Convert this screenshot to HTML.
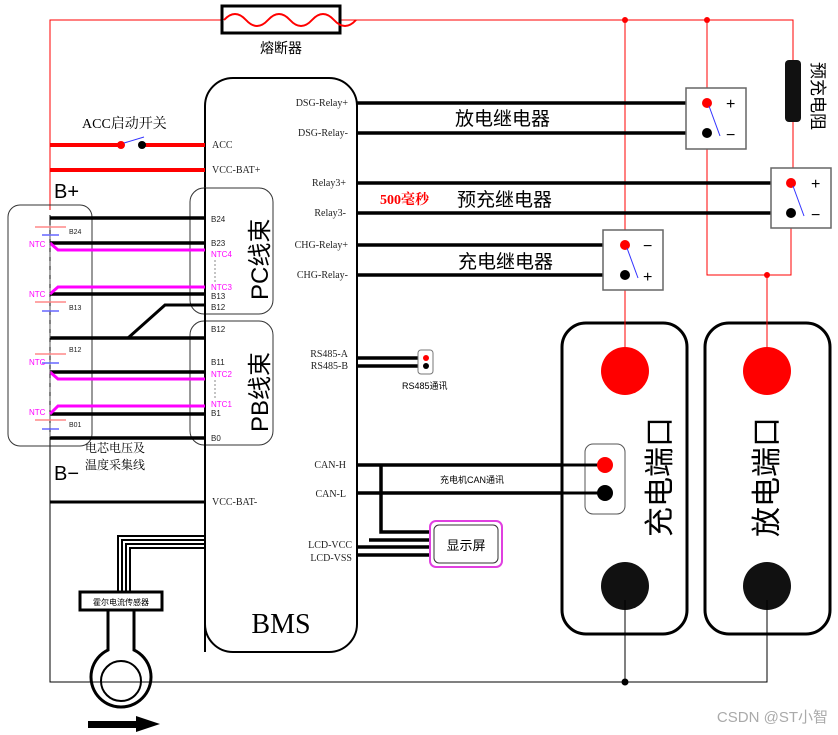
<!DOCTYPE html>
<html><head><meta charset="utf-8"><style>
html,body{margin:0;padding:0;background:#fff;width:838px;height:735px;overflow:hidden}
svg{display:block}
text{font-family:"Liberation Sans","Noto Sans CJK SC",sans-serif}
.s{font-family:"Liberation Serif","Noto Serif CJK SC",serif}
</style></head><body>
<svg width="838" height="735" viewBox="0 0 838 735" xmlns="http://www.w3.org/2000/svg">
<polyline points="50,210 50,20 793,20 793,60" fill="none" stroke="#f00" stroke-width="1"/>
<circle cx="625" cy="20" r="3" fill="#f00"/><circle cx="707" cy="20" r="3" fill="#f00"/>
<rect x="222" y="6" width="118" height="27" fill="#fff" stroke="#000" stroke-width="3"/>
<path d="M224,20 q11,-12 22,0 t22,0 t22,0 t22,0 t22,0 t22,0" fill="none" stroke="#f00" stroke-width="2"/>
<text x="281" y="53" font-size="14" text-anchor="middle">熔断器</text>
<line x1="625" y1="20" x2="625" y2="345" stroke="#f00"/>
<line x1="707" y1="20" x2="707" y2="103" stroke="#f00"/>
<polyline points="707,133 707,275 791,275 791,213" fill="none" stroke="#f00"/>
<circle cx="767" cy="275" r="3" fill="#f00"/>
<line x1="767" y1="275" x2="767" y2="350" stroke="#f00"/>
<line x1="793" y1="120" x2="793" y2="183" stroke="#f00"/>
<rect x="785" y="60" width="16" height="62" rx="4" fill="#111"/>
<text transform="translate(812,62) rotate(90)" font-size="17">预充电阻</text>
<rect x="205" y="78" width="152" height="574" rx="28" fill="none" stroke="#000" stroke-width="2"/>
<text x="281" y="633" class="s" font-size="28" text-anchor="middle">BMS</text>
<g stroke="#000" stroke-width="3.5">
<line x1="357" y1="103" x2="686" y2="103"/><line x1="357" y1="133" x2="686" y2="133"/>
<line x1="357" y1="183" x2="771" y2="183"/><line x1="357" y1="213" x2="771" y2="213"/>
<line x1="357" y1="245" x2="603" y2="245"/><line x1="357" y1="275" x2="603" y2="275"/>
<line x1="357" y1="358" x2="425" y2="358"/><line x1="357" y1="366" x2="425" y2="366"/>
<line x1="357" y1="465" x2="603" y2="465"/><line x1="357" y1="493" x2="603" y2="493"/>
<polyline points="381,465 381,532 430,532" fill="none"/>
<line x1="369" y1="540" x2="430" y2="540"/>
<line x1="357" y1="547" x2="430" y2="547"/><line x1="357" y1="555" x2="430" y2="555"/>
</g>
<g class="s" font-size="10" text-anchor="end" fill="#222">
<text x="348" y="106" class="s">DSG-Relay+</text><text x="348" y="136" class="s">DSG-Relay-</text>
<text x="346" y="186" class="s">Relay3+</text><text x="346" y="216" class="s">Relay3-</text>
<text x="348" y="248" class="s">CHG-Relay+</text><text x="348" y="278" class="s">CHG-Relay-</text>
<text x="348" y="357" class="s">RS485-A</text><text x="348" y="369" class="s">RS485-B</text>
<text x="346" y="468" class="s">CAN-H</text><text x="346" y="497" class="s">CAN-L</text>
<text x="352" y="548" class="s">LCD-VCC</text><text x="352" y="561" class="s">LCD-VSS</text>
<text x="212" y="148" text-anchor="start" class="s">ACC</text>
<text x="212" y="173" text-anchor="start" class="s">VCC-BAT+</text>
<text x="212" y="505" text-anchor="start" class="s">VCC-BAT-</text>
</g>
<text x="455" y="125" font-size="19">放电继电器</text>
<text x="380" y="204" font-size="14" fill="#f00" class="s" font-weight="bold">500毫秒</text>
<text x="457" y="206" font-size="19">预充继电器</text>
<text x="458" y="268" font-size="19">充电继电器</text>
<g fill="#fff" stroke="#666" stroke-width="1.5">
<rect x="686" y="88" width="60" height="61"/><rect x="771" y="168" width="60" height="60"/><rect x="603" y="230" width="60" height="60"/>
</g>
<g>
<circle cx="707" cy="103" r="5" fill="#f00"/><circle cx="707" cy="133" r="5" fill="#000"/><line x1="709" y1="106" x2="720" y2="136" stroke="#33f"/>
<text x="726" y="109" font-size="16">+</text><text x="726" y="140" font-size="16">−</text>
<circle cx="791" cy="183" r="5" fill="#f00"/><circle cx="791" cy="213" r="5" fill="#000"/><line x1="793" y1="186" x2="804" y2="216" stroke="#33f"/>
<text x="811" y="189" font-size="16">+</text><text x="811" y="220" font-size="16">−</text>
<circle cx="625" cy="245" r="5" fill="#f00"/><circle cx="625" cy="275" r="5" fill="#000"/><line x1="627" y1="248" x2="638" y2="278" stroke="#33f"/>
<text x="643" y="251" font-size="16">−</text><text x="643" y="282" font-size="16">+</text>
</g>
<rect x="418" y="350" width="15" height="24" rx="3" fill="#fff" stroke="#777"/>
<circle cx="426" cy="358" r="3" fill="#f00"/><circle cx="426" cy="366" r="3" fill="#000"/>
<text x="402" y="389" font-size="9">RS485通讯</text>
<text x="440" y="483" font-size="9">充电机CAN通讯</text>
<rect x="430" y="521" width="72" height="46" rx="6" fill="#fff" stroke="#e040e0" stroke-width="2"/>
<rect x="434" y="525" width="64" height="38" rx="5" fill="none" stroke="#333"/>
<text x="466" y="550" font-size="13" text-anchor="middle">显示屏</text>
<rect x="562" y="323" width="125" height="311" rx="24" fill="#fff" stroke="#000" stroke-width="3"/>
<rect x="705" y="323" width="125" height="311" rx="24" fill="#fff" stroke="#000" stroke-width="3"/>
<line x1="625" y1="300" x2="625" y2="348" stroke="#f00"/><line x1="767" y1="290" x2="767" y2="348" stroke="#f00"/>
<circle cx="625" cy="371" r="24" fill="#f00"/><circle cx="767" cy="371" r="24" fill="#f00"/>
<circle cx="625" cy="586" r="24" fill="#111"/><circle cx="767" cy="586" r="24" fill="#111"/>
<rect x="585" y="444" width="40" height="70" rx="8" fill="#fff" stroke="#555"/>
<line x1="562" y1="465" x2="603" y2="465" stroke="#000" stroke-width="3"/><line x1="562" y1="493" x2="603" y2="493" stroke="#000" stroke-width="3"/>
<circle cx="605" cy="465" r="8" fill="#f00"/><circle cx="605" cy="493" r="8" fill="#000"/>
<text transform="translate(670,477) rotate(-90)" font-size="30" text-anchor="middle">充电端口</text>
<text transform="translate(777,477) rotate(-90)" font-size="30" text-anchor="middle">放电端口</text>
<polyline points="50,215 50,682 767,682 767,600" fill="none" stroke="#000" stroke-width="1"/>
<line x1="625" y1="600" x2="625" y2="682" stroke="#000"/>
<circle cx="625" cy="682" r="3.5" fill="#000"/>
<text x="82" y="128" font-size="14" class="s">ACC启动开关</text>
<line x1="50" y1="145" x2="121" y2="145" stroke="#f00" stroke-width="4"/>
<line x1="142" y1="145" x2="205" y2="145" stroke="#f00" stroke-width="4"/>
<circle cx="121" cy="145" r="4" fill="#f00"/><circle cx="142" cy="145" r="4" fill="#000"/>
<line x1="124" y1="143" x2="144" y2="137" stroke="#33f"/>
<line x1="50" y1="170" x2="205" y2="170" stroke="#f00" stroke-width="4"/>
<text x="54" y="198" font-size="20">B+</text>
<text x="54" y="480" font-size="20">B−</text>
<rect x="8" y="205" width="84" height="241" rx="12" fill="none" stroke="#333"/>
<rect x="190" y="188" width="83" height="126" rx="14" fill="#fff" stroke="#333"/>
<rect x="190" y="321" width="83" height="124" rx="14" fill="#fff" stroke="#333"/>
<line x1="205" y1="188" x2="205" y2="652" stroke="#000" stroke-width="2"/>
<g stroke="#000" stroke-width="3.5">
<line x1="50" y1="218" x2="205" y2="218"/><line x1="50" y1="243" x2="205" y2="243"/>
<line x1="50" y1="294" x2="205" y2="294"/>
<polyline points="128,338 165,305 205,305" fill="none" stroke-width="3"/>
<line x1="50" y1="338" x2="205" y2="338"/>
<line x1="50" y1="372" x2="205" y2="372"/><line x1="50" y1="414" x2="205" y2="414"/>
<line x1="50" y1="438" x2="205" y2="438"/>
<line x1="50" y1="502" x2="205" y2="502" stroke-width="3"/>
</g>
<g stroke="#f0f" stroke-width="3" fill="none">
<polyline points="50,243 58,250 205,250"/><polyline points="50,294 58,287 205,287"/>
<polyline points="50,372 58,379 205,379"/><polyline points="50,414 58,406 205,406"/>
</g>
<g stroke="#555" stroke-dasharray="5,4"><line x1="50" y1="225" x2="50" y2="440"/></g>
<g stroke-width="1.5">
<line x1="35" y1="227" x2="66" y2="227" stroke="#f88"/><line x1="42" y1="235" x2="59" y2="235" stroke="#66f"/>
<line x1="35" y1="302" x2="66" y2="302" stroke="#f88"/><line x1="42" y1="311" x2="59" y2="311" stroke="#66f"/>
<line x1="35" y1="354" x2="66" y2="354" stroke="#f88"/><line x1="42" y1="363" x2="59" y2="363" stroke="#66f"/>
<line x1="35" y1="420" x2="66" y2="420" stroke="#f88"/><line x1="42" y1="429" x2="59" y2="429" stroke="#66f"/>
</g>
<g font-size="7" fill="#222"><text x="69" y="234">B24</text><text x="69" y="310">B13</text><text x="69" y="352">B12</text><text x="69" y="427">B01</text></g>
<g font-size="8" fill="#f0f"><text x="29" y="247">NTC</text><text x="29" y="297">NTC</text><text x="29" y="365">NTC</text><text x="29" y="415">NTC</text></g>
<g font-size="8" fill="#222">
<text x="211" y="222">B24</text><text x="211" y="246">B23</text><text x="211" y="299">B13</text><text x="211" y="310">B12</text>
<text x="211" y="332">B12</text><text x="211" y="365">B11</text><text x="211" y="416">B1</text><text x="211" y="441">B0</text>
</g>
<g font-size="8" fill="#f0f"><text x="211" y="257">NTC4</text><text x="211" y="290">NTC3</text><text x="211" y="377">NTC2</text><text x="211" y="407">NTC1</text></g>
<g stroke="#888" stroke-dasharray="2,2"><line x1="215" y1="260" x2="215" y2="282"/><line x1="215" y1="380" x2="215" y2="400"/></g>
<text transform="translate(268,300) rotate(-90)" font-size="24">PC线束</text>
<text transform="translate(268,432) rotate(-90)" font-size="24">PB线束</text>
<text x="85" y="452" font-size="12" class="s">电芯电压及</text>
<text x="85" y="469" font-size="12" class="s">温度采集线</text>
<g stroke="#000" stroke-width="2" fill="none">
<polyline points="205,536 118,536 118,592"/><polyline points="205,540 122,540 122,592"/>
<polyline points="205,544 126,544 126,592"/><polyline points="205,548 130,548 130,592"/>
</g>
<rect x="80" y="592" width="82" height="18" fill="#fff" stroke="#000" stroke-width="3"/>
<text x="121" y="605" font-size="8" text-anchor="middle">霍尔电流传感器</text>
<path d="M108,610 L108,650 A30,30 0 1,0 134,650 L134,610" fill="none" stroke="#000" stroke-width="3"/>
<circle cx="121" cy="681" r="20" fill="none" stroke="#000" stroke-width="2"/>
<rect x="88" y="721" width="48" height="7" fill="#000"/>
<polygon points="136,716 160,724 136,732" fill="#000"/>
<text x="828" y="722" font-size="15" fill="#aaa" text-anchor="end">CSDN @ST小智</text>
</svg>
</body></html>
